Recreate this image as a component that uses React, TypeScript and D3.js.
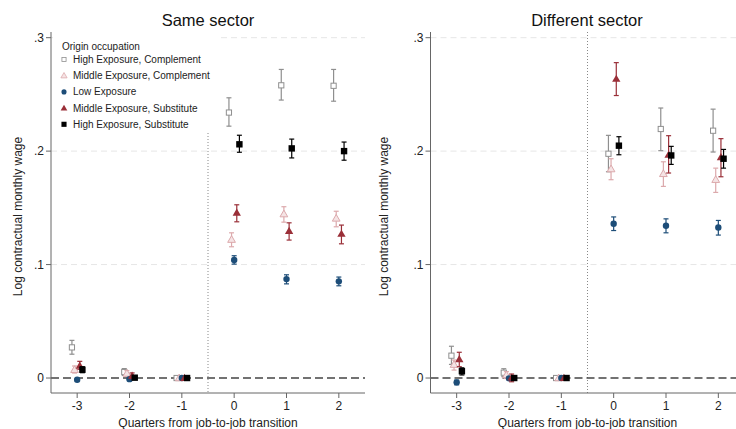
import React from "react";
import * as d3 from "d3";

const quarters = [-3, -2, -1, 0, 1, 2];
const xTicks = [-3, -2, -1, 0, 1, 2];
const yTicks = [0, 0.1, 0.2, 0.3];
const yTickLabels = ["0", ".1", ".2", ".3"];
const panelTitles = ["Same sector", "Different sector"];
const legendTitle = "Origin occupation";
const seriesNames = [
  "High Exposure, Complement",
  "Middle Exposure, Complement",
  "Low Exposure",
  "Middle Exposure, Substitute",
  "High Exposure, Substitute",
];
const seriesOffsets = [-0.1, -0.05, 0, 0.05, 0.1];

// Same sector
const sameHighCompEst = [0.027, 0.0053, 0, 0.234, 0.258, 0.2576];
const sameHighCompLo = [0.021, 0.0023, 0, 0.222, 0.245, 0.244];
const sameHighCompHi = [0.0332, 0.0083, 0, 0.247, 0.272, 0.272];
const sameMidCompEst = [0.0073, 0.004, 0, 0.122, 0.1445, 0.1407];
const sameMidCompLo = [0.0044, 0.0015, 0, 0.1157, 0.1374, 0.1333];
const sameMidCompHi = [0.0106, 0.0065, 0, 0.128, 0.151, 0.147];
const sameLowEst = [-0.0015, -0.001, 0, 0.104, 0.0872, 0.0852];
const sameLowLo = [-0.0025, -0.0018, 0, 0.1004, 0.083, 0.0813];
const sameLowHi = [-0.0005, -0.0002, 0, 0.1078, 0.091, 0.089];
const sameMidSubEst = [0.0108, 0.002, 0, 0.1457, 0.1295, 0.127];
const sameMidSubLo = [0.0077, -0.0005, 0, 0.1377, 0.1216, 0.1183];
const sameMidSubHi = [0.0147, 0.0045, 0, 0.1527, 0.1368, 0.1348];
const sameHighSubEst = [0.0073, 0.0003, 0, 0.206, 0.2024, 0.2];
const sameHighSubLo = [0.0047, -0.001, 0, 0.199, 0.194, 0.192];
const sameHighSubHi = [0.01, 0.0016, 0, 0.214, 0.2106, 0.208];

// Different sector
const diffHighCompEst = [0.0197, 0.0047, 0, 0.1977, 0.2195, 0.218];
const diffHighCompLo = [0.012, 0.0012, 0, 0.1818, 0.2004, 0.1992];
const diffHighCompHi = [0.028, 0.0082, 0, 0.2139, 0.238, 0.237];
const diffMidCompEst = [0.0118, 0.0026, 0, 0.1842, 0.18, 0.1748];
const diffMidCompLo = [0.007, -0.0004, 0, 0.1748, 0.1689, 0.1636];
const diffMidCompHi = [0.0159, 0.0056, 0, 0.1933, 0.1906, 0.185];
const diffLowEst = [-0.0038, -0.0003, 0, 0.136, 0.1342, 0.1327];
const diffLowLo = [-0.006, -0.0015, 0, 0.13, 0.128, 0.126];
const diffLowHi = [-0.0018, 0.0009, 0, 0.142, 0.1403, 0.1389];
const diffMidSubEst = [0.0165, 0.0003, 0, 0.2636, 0.1968, 0.1945];
const diffMidSubLo = [0.01, -0.0033, 0, 0.249, 0.1807, 0.1774];
const diffMidSubHi = [0.0227, 0.0035, 0, 0.278, 0.2136, 0.211];
const diffHighSubEst = [0.006, 0, 0, 0.2048, 0.1962, 0.1933];
const diffHighSubLo = [0.0027, -0.0015, 0, 0.1968, 0.1883, 0.185];
const diffHighSubHi = [0.009, 0.0015, 0, 0.2127, 0.2042, 0.2015];

const panels = [
  {
    est: [sameHighCompEst, sameMidCompEst, sameLowEst, sameMidSubEst, sameHighSubEst],
    lo: [sameHighCompLo, sameMidCompLo, sameLowLo, sameMidSubLo, sameHighSubLo],
    hi: [sameHighCompHi, sameMidCompHi, sameLowHi, sameMidSubHi, sameHighSubHi],
  },
  {
    est: [diffHighCompEst, diffMidCompEst, diffLowEst, diffMidSubEst, diffHighSubEst],
    lo: [diffHighCompLo, diffMidCompLo, diffLowLo, diffMidSubLo, diffHighSubLo],
    hi: [diffHighCompHi, diffMidCompHi, diffLowHi, diffMidSubHi, diffHighSubHi],
  },
];

const colors = ["#8f8f8f", "#dca9ac", "#1d4d78", "#9a2f38", "#000000"];
const FONT = "'Liberation Sans', Arial, sans-serif";

const W = 736;
const H = 429;
const top = 32;
const bottom = 393;
const panelLeft = [51, 430.5];
const panelWidth = 314;
const yTitleX = [18, 384];

function Marker({ i, x, y, s = 1 }: { i: number; x: number; y: number; s?: number }) {
  const c = colors[i];
  let el;
  if (i === 0) el = <rect x={-2.6} y={-2.6} width={5.2} height={5.2} fill="white" stroke={c} strokeWidth={1} />;
  else if (i === 4) el = <rect x={-3.2} y={-3.2} width={6.4} height={6.4} fill={c} />;
  else if (i === 2) el = <circle cx={0} cy={0} r={3.2} fill={c} />;
  else {
    const sym = d3.symbol().type(d3.symbolTriangle).size(i === 1 ? 26 : 30)();
    el =
      i === 1 ? (
        <path d={sym || ""} transform="translate(0,0.5)" fill="#f5e4e5" stroke={c} strokeWidth={1} />
      ) : (
        <path d={sym || ""} transform="translate(0,0.5)" fill={c} />
      );
  }
  return <g transform={`translate(${x},${y}) scale(${s})`}>{el}</g>;
}

function Panel({ p }: { p: number }) {
  const data = panels[p];
  const x = d3.scaleLinear().domain([-3.5, 2.5]).range([panelLeft[p], panelLeft[p] + panelWidth]);
  const y = d3.scaleLinear().domain([-0.0132, 0.305]).range([bottom, top]);
  const x0 = panelLeft[p];
  const x1 = panelLeft[p] + panelWidth;
  const cx = (x0 + x1) / 2;
  return (
    <g>
      <text x={p === 0 ? 208 : 587} y={26} textAnchor="middle" fontSize={16.5} fill="#111" fontFamily={FONT}>
        {panelTitles[p]}
      </text>
      {yTicks.slice(1).map((t) => (
        <line key={t} x1={x0} x2={x1} y1={y(t)} y2={y(t)} stroke="#e6e6e6" strokeWidth={1} strokeDasharray="6 4" />
      ))}
      {p === 0 && <rect x={53} y={34} width={164} height={99} fill="white" />}
      <line x1={x(-0.5)} x2={x(-0.5)} y1={p === 0 ? 133 : top} y2={bottom} stroke="#888" strokeWidth={1} strokeDasharray="1 2" />
      <line x1={x0} x2={x1} y1={y(0)} y2={y(0)} stroke="#444" strokeWidth={1.6} strokeDasharray="8 4" />
      <line x1={x0} x2={x0} y1={top} y2={bottom} stroke="#666" strokeWidth={1} />
      <line x1={x0} x2={x1} y1={bottom} y2={bottom} stroke="#666" strokeWidth={1} />
      {yTicks.map((t, k) => (
        <g key={t}>
          <line x1={x0 - 5} x2={x0} y1={y(t)} y2={y(t)} stroke="#666" />
          <text x={x0 - 7} y={y(t) + 4.2} textAnchor="end" fontSize={12} fill="#222" fontFamily={FONT}>
            {yTickLabels[k]}
          </text>
        </g>
      ))}
      {xTicks.map((t) => (
        <g key={t}>
          <line x1={x(t)} x2={x(t)} y1={bottom} y2={bottom + 5} stroke="#666" />
          <text x={x(t)} y={bottom + 17} textAnchor="middle" fontSize={12} fill="#222" fontFamily={FONT}>
            {t}
          </text>
        </g>
      ))}
      <text x={cx} y={bottom + 34} textAnchor="middle" fontSize={12} fill="#222" fontFamily={FONT}>
        Quarters from job-to-job transition
      </text>
      <text
        transform={`translate(${yTitleX[p] + 4},${(top + bottom) / 2 + 4}) rotate(-90)`}
        textAnchor="middle"
        fontSize={12}
        fill="#222"
        fontFamily={FONT}
      >
        Log contractual monthly wage
      </text>
      {data.est.map((est, i) => (
        <g key={i}>
          {quarters.map((q, k) => {
            const px = x(q + seriesOffsets[i]);
            const lo = data.lo[i][k];
            const hi = data.hi[i][k];
            const showBar = Math.abs(y(lo) - y(hi)) > 1;
            return (
              <g key={q}>
                {showBar && (
                  <g stroke={colors[i]} strokeWidth={1.2}>
                    <line x1={px} x2={px} y1={y(lo)} y2={y(hi)} />
                    <line x1={px - 2.5} x2={px + 2.5} y1={y(lo)} y2={y(lo)} />
                    <line x1={px - 2.5} x2={px + 2.5} y1={y(hi)} y2={y(hi)} />
                  </g>
                )}
                <Marker i={i} x={px} y={y(est[k])} />
              </g>
            );
          })}
        </g>
      ))}
      {p === 0 && (
        <g>
          <text x={62} y={49.5} fontSize={10} fill="#222" fontFamily={FONT}>
            {legendTitle}
          </text>
          {seriesNames.map((n, i) => {
            const ly = 59.5 + i * 16.2;
            return (
              <g key={n}>
                <Marker i={i} x={64} y={ly} s={0.8} />
                <text x={73} y={ly + 3.5} fontSize={10} fill="#222" fontFamily={FONT}>
                  {n}
                </text>
              </g>
            );
          })}
        </g>
      )}
    </g>
  );
}

export default function App() {
  return (
    <svg
      width={W}
      height={H}
      viewBox={`0 0 ${W} ${H}`}
      style={{ position: "absolute", left: 0, top: 0, display: "block", background: "white" }}
    >
      <rect x={0} y={0} width={W} height={H} fill="white" />
      <Panel p={0} />
      <Panel p={1} />
    </svg>
  );
}
